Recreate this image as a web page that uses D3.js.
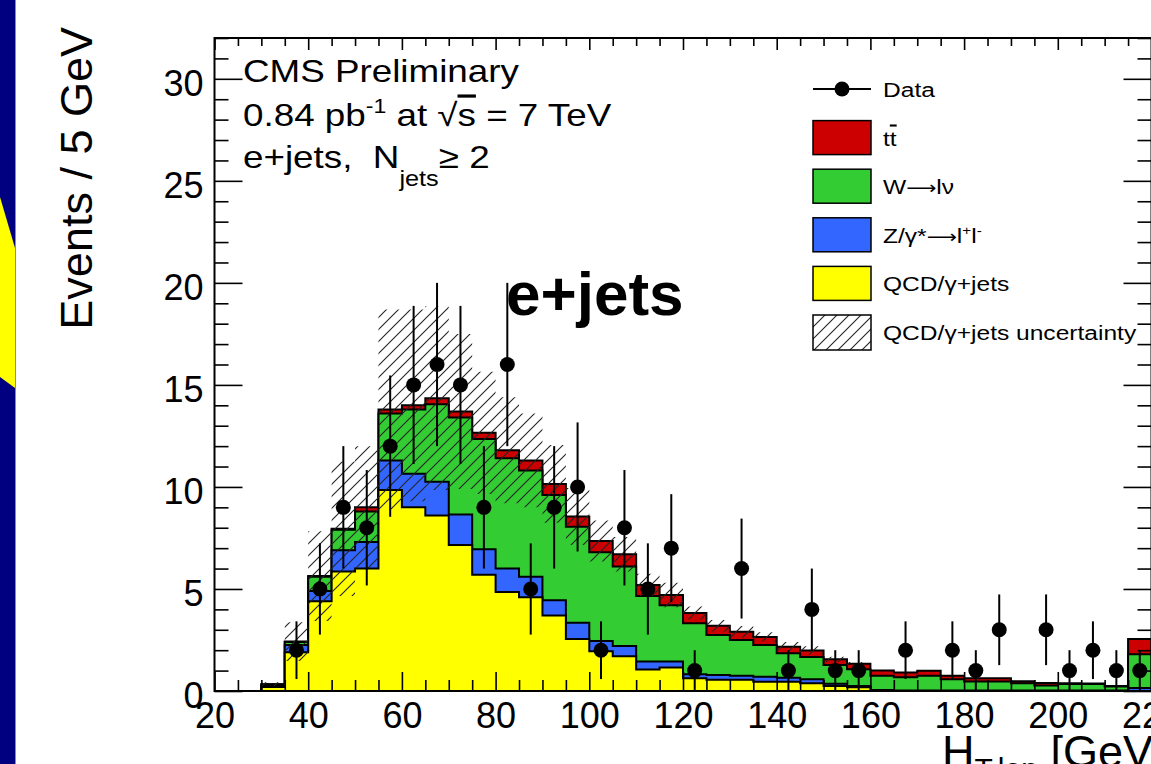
<!DOCTYPE html>
<html>
<head>
<meta charset="utf-8">
<script src="https://cdn.jsdelivr.net/npm/d3@7"></script>
<style>
  html, body { margin: 0; padding: 0; background: #fff; }
  svg { display: block; }
  text { font-family: "Liberation Sans", Arial, Helvetica, sans-serif; fill: #000; white-space: pre; }
  .arrow { font-family: "DejaVu Sans", sans-serif; }
</style>
</head>
<body>
<svg id="chart" width="1151" height="764"></svg>
<script>
// ---- data ----
// lower edge of each 5 GeV bin
const binLow = [20, 25, 30, 35, 40, 45, 50, 55, 60, 65, 70, 75, 80, 85, 90, 95, 100, 105, 110, 115,
	120, 125, 130, 135, 140, 145, 150, 155, 160, 165, 170, 175, 180, 185, 190, 195, 200, 205, 210, 215];
const binWidth = 5;

// stacked MC components, bottom to top
const qcd = [0, 0, 0.2, 1.9, 4.4, 5.85, 6.0, 9.85, 9.0, 8.6, 7.15, 5.7, 4.85, 4.6, 3.7, 2.55, 1.95, 1.7, 1.05, 1.15,
	0.62, 0.55, 0.55, 0.45, 0.45, 0.38, 0.25, 0.18, 0.02, 0, 0, 0, 0, 0, 0, 0, 0, 0, 0, 0];
const zjets = [0, 0, 0.05, 0.35, 0.5, 1.05, 1.3, 1.45, 1.65, 1.65, 1.5, 1.25, 1.15, 1.0, 0.75, 0.8, 0.5, 0.5, 0.4, 0.3,
	0.2, 0.23, 0.2, 0.25, 0.2, 0.19, 0.1, 0.07, 0.03, 0.03, 0.03, 0.02, 0.02, 0.02, 0.02, 0.02, 0.02, 0.02, 0.02, 0.15];
const wjets = [0, 0, 0.08, 0.15, 0.7, 1.0, 1.5, 2.3, 3.15, 3.8, 4.75, 5.4, 5.4, 5.2, 5.15, 4.7, 4.35, 3.9, 3.2, 2.75,
	2.5, 1.97, 1.75, 1.55, 1.2, 1.1, 0.92, 0.82, 0.7, 0.64, 0.72, 0.55, 0.45, 0.45, 0.36, 0.25, 0.32, 0.32, 0.2, 1.65];
const ttbar = [0, 0, 0, 0.02, 0.03, 0.05, 0.2, 0.2, 0.2, 0.3, 0.3, 0.3, 0.4, 0.5, 0.55, 0.5, 0.55, 0.6, 0.55, 0.5,
	0.5, 0.45, 0.4, 0.4, 0.32, 0.32, 0.28, 0.26, 0.25, 0.24, 0.24, 0.18, 0.16, 0.15, 0.1, 0.12, 0.04, 0.03, 0.02, 0.75];
// half width of the hatched QCD uncertainty band around the total
const qcdUnc = [0, 0, 0.1, 0.95, 2.2, 3.3, 3.0, 4.9, 4.7, 4.5, 3.8, 3.0, 2.6, 2.3, 1.9, 1.4, 1.0, 0.85, 0.55, 0.6,
	0.32, 0.28, 0.28, 0.23, 0.23, 0.2, 0.13, 0.09, 0, 0, 0, 0, 0, 0, 0, 0, 0, 0, 0, 0];
// observed events per bin
const dataCounts = [0, 0, 0, 2, 5, 9, 8, 12, 15, 16, 15, 9, 16, 5, 9, 10, 2, 8, 5, 7,
	1, 0, 6, 0, 1, 4, 1, 1, 0, 2, 0, 2, 1, 3, 0, 3, 1, 2, 1, 1];

const xTicks = [20, 40, 60, 80, 100, 120, 140, 160, 180, 200, 220];
const xMinor = [25, 30, 35, 45, 50, 55, 65, 70, 75, 85, 90, 95, 105, 110, 115, 125, 130, 135, 145, 150, 155,
	165, 170, 175, 185, 190, 195, 205, 210, 215];
const yTicks = [0, 5, 10, 15, 20, 25, 30];
const yMinor = [1, 2, 3, 4, 6, 7, 8, 9, 11, 12, 13, 14, 16, 17, 18, 19, 21, 22, 23, 24, 26, 27, 28, 29, 31, 32];

const layerColors = ["#ffff00", "#3366ff", "#33cc33", "#cc0000"];

// ---- layout ----
const svg = d3.select("#chart");
const frame = { left: 214.5, right: 1151.5, top: 38, bottom: 691 };
const x = d3.scaleLinear().domain([20, 220]).range([frame.left, frame.right]);
const y = d3.scaleLinear().domain([0, 32]).range([frame.bottom, frame.top]);

// slide background strip on the left
svg.append("rect").attr("x", 0).attr("y", 0).attr("width", 15).attr("height", 764).attr("fill", "#000080");
svg.append("polygon").attr("points", "0,197 15,248 15,388 0,377").attr("fill", "#ffff00");
svg.append("line").attr("x1", 15.5).attr("x2", 15.5).attr("y1", 0).attr("y2", 764)
	.attr("stroke", "#8585c8").attr("stroke-width", 1);

const defs = svg.append("defs");
defs.append("clipPath").attr("id", "frame-clip").append("rect")
	.attr("x", frame.left).attr("y", frame.top)
	.attr("width", frame.right - frame.left).attr("height", frame.bottom - frame.top);
const hs = 12;
const hatch = defs.append("pattern").attr("id", "hatch")
	.attr("patternUnits", "userSpaceOnUse").attr("width", hs).attr("height", hs);
hatch.append("path").attr("d", `M-1,1 L1,-1 M0,${hs} L${hs},0 M${hs - 1},${hs + 1} L${hs + 1},${hs - 1}`)
	.attr("stroke", "#222").attr("stroke-width", 1.1);

// cumulative stack
const layers = [qcd, zjets, wjets, ttbar];
const cumulative = [];
layers.forEach((layer, li) => {
	cumulative.push(layer.map((v, i) => v + (li > 0 ? cumulative[li - 1][i] : 0)));
});
const total = cumulative[cumulative.length - 1];

function stepPoints(lo, hi) {
	const pts = [];
	binLow.forEach((b, i) => {
		pts.push({ x: b, lo: lo[i], hi: hi[i] });
		pts.push({ x: b + binWidth, lo: lo[i], hi: hi[i] });
	});
	return pts;
}
const stepArea = d3.area().x(d => x(d.x)).y0(d => y(d.lo)).y1(d => y(d.hi));

const plot = svg.append("g").attr("clip-path", "url(#frame-clip)");
const zeros = binLow.map(() => 0);

// draw from the top of the stack down, so each lower layer covers the one above
for (let li = cumulative.length - 1; li >= 0; li--) {
	plot.append("path")
		.attr("d", stepArea(stepPoints(zeros, cumulative[li])))
		.attr("fill", layerColors[li])
		.attr("stroke", "#000")
		.attr("stroke-width", 2)
		.attr("stroke-linejoin", "miter");
}

// hatched QCD uncertainty band
plot.append("path")
	.attr("d", stepArea(stepPoints(total.map((t, i) => t - qcdUnc[i]), total.map((t, i) => t + qcdUnc[i]))))
	.attr("fill", "url(#hatch)")
	.attr("stroke", "none");

// data with sqrt(N) error bars
const dataG = plot.append("g");
binLow.forEach((b, i) => {
	const n = dataCounts[i];
	if (n <= 0) return;
	const cx = x(b + binWidth / 2);
	const e = Math.sqrt(n);
	dataG.append("line").attr("x1", cx).attr("x2", cx)
		.attr("y1", y(Math.max(0, n - e))).attr("y2", y(n + e))
		.attr("stroke", "#000").attr("stroke-width", 2);
	dataG.append("circle").attr("cx", cx).attr("cy", y(n)).attr("r", 7.5).attr("fill", "#000");
});

// ---- axes ----
function styleAxis(g) {
	g.select(".domain").remove();
	g.selectAll(".tick line").attr("stroke", "#000").attr("stroke-width", 1.6);
}
svg.append("g").attr("transform", `translate(0,${frame.bottom})`)
	.call(d3.axisBottom(x).tickValues(xTicks).tickSizeInner(-19).tickSizeOuter(0).tickPadding(11))
	.call(styleAxis)
	.call(g => g.selectAll("text").style("font-size", "36px").style("font-family", "Liberation Sans, Arial, sans-serif"));
svg.append("g").attr("transform", `translate(0,${frame.bottom})`)
	.call(d3.axisBottom(x).tickValues(xMinor).tickSizeInner(-11).tickSizeOuter(0).tickFormat(""))
	.call(styleAxis);
svg.append("g").attr("transform", `translate(0,${frame.top})`)
	.call(d3.axisBottom(x).tickValues(xTicks).tickSizeInner(12).tickSizeOuter(0).tickFormat(""))
	.call(styleAxis);
svg.append("g").attr("transform", `translate(0,${frame.top})`)
	.call(d3.axisBottom(x).tickValues(xMinor).tickSizeInner(8).tickSizeOuter(0).tickFormat(""))
	.call(styleAxis);

svg.append("g").attr("transform", `translate(${frame.left},0)`)
	.call(d3.axisLeft(y).tickValues(yTicks).tickSizeInner(-28).tickSizeOuter(0).tickPadding(11))
	.call(styleAxis)
	.call(g => g.selectAll("text").attr("dy", "0.47em").style("font-size", "36px")
		.style("font-family", "Liberation Sans, Arial, sans-serif"));
svg.append("g").attr("transform", `translate(${frame.left},0)`)
	.call(d3.axisLeft(y).tickValues(yMinor).tickSizeInner(-14).tickSizeOuter(0).tickFormat(""))
	.call(styleAxis);
svg.append("g").attr("transform", `translate(${frame.right},0)`)
	.call(d3.axisLeft(y).tickValues(yTicks).tickSizeInner(28).tickSizeOuter(0).tickFormat(""))
	.call(styleAxis);
svg.append("g").attr("transform", `translate(${frame.right},0)`)
	.call(d3.axisLeft(y).tickValues(yMinor).tickSizeInner(14).tickSizeOuter(0).tickFormat(""))
	.call(styleAxis);

svg.append("rect").attr("x", frame.left).attr("y", frame.top)
	.attr("width", frame.right - frame.left).attr("height", frame.bottom - frame.top)
	.attr("fill", "none").attr("stroke", "#000").attr("stroke-width", 2);

// axis titles
svg.append("text").attr("transform", "translate(92,27) rotate(-90)")
	.attr("text-anchor", "end").style("font-size", "45px").text("Events / 5 GeV");
const xt = svg.append("text").attr("x", 942).attr("y", 767).style("font-size", "45px");
xt.append("tspan").text("H");
xt.append("tspan").attr("dy", 12).style("font-size", "30px").text("T,lep");
xt.append("tspan").attr("dy", -12).text(" [GeV]");

// ---- annotation text (ROOT latex is drawn a bit wide) ----
const wide = 1.15;
function wideText(px, py, size) {
	return svg.append("text").attr("transform", `translate(${px},${py}) scale(${wide},1)`)
		.style("font-size", size + "px");
}
wideText(243, 82, 32).text("CMS Preliminary");
const l2 = wideText(243, 126, 32);
l2.append("tspan").text("0.84 pb");
l2.append("tspan").attr("dy", -13).style("font-size", "20px").text("-1");
l2.append("tspan").attr("dy", 13).text(" at ");
l2.append("tspan").text("\u221a");
l2.append("tspan").style("text-decoration", "overline").text("s");
l2.append("tspan").text(" = 7 TeV");
const l3 = wideText(243, 168, 32);
l3.append("tspan").text("e+jets,  N");
l3.append("tspan").attr("dy", 18).style("font-size", "22px").text("jets");
l3.append("tspan").attr("dy", -18).text("\u2265 2");

svg.append("text").attr("x", 506).attr("y", 315)
	.style("font-size", "62px").style("font-weight", "bold").text("e+jets");

// ---- legend ----
const legX = 813, legW = 58, legH = 34, legTop = 89, legStep = 48.6, legTextX = 883;
const leg = svg.append("g");
leg.append("line").attr("x1", legX).attr("x2", legX + legW).attr("y1", legTop).attr("y2", legTop)
	.attr("stroke", "#000").attr("stroke-width", 2);
leg.append("circle").attr("cx", legX + legW / 2).attr("cy", legTop).attr("r", 7.5).attr("fill", "#000");

function legText(row) {
	return leg.append("text")
		.attr("transform", `translate(${legTextX},${legTop + row * legStep + 8}) scale(1.17,1)`)
		.style("font-size", "21px");
}
legText(0).text("Data");

// boxes top to bottom: tt, W, Z, QCD, uncertainty
const legendOrder = [3, 2, 1, 0];
legendOrder.forEach((li, k) => {
	const cy = legTop + (k + 1) * legStep;
	leg.append("rect").attr("x", legX).attr("y", cy - legH / 2).attr("width", legW).attr("height", legH)
		.attr("fill", layerColors[li]).attr("stroke", "#000").attr("stroke-width", 1.5);
});
const uy = legTop + 5 * legStep;
leg.append("rect").attr("x", legX).attr("y", uy - legH / 2).attr("width", legW).attr("height", legH + 1)
	.attr("fill", "url(#hatch)").attr("stroke", "#000").attr("stroke-width", 1.5);

const tt = legText(1);
tt.append("tspan").text("t");
tt.append("tspan").style("text-decoration", "overline").text("t");
const wl = legText(2);
wl.append("tspan").text("W");
wl.append("tspan").attr("class", "arrow").style("font-size", "18px").text("\u27f6");
wl.append("tspan").text("l\u03bd");
const zl = legText(3);
zl.append("tspan").text("Z/\u03b3*");
zl.append("tspan").attr("class", "arrow").style("font-size", "18px").text("\u27f6");
zl.append("tspan").text("l");
zl.append("tspan").attr("dy", -8).style("font-size", "13px").text("+");
zl.append("tspan").attr("dy", 8).text("l");
zl.append("tspan").attr("dy", -8).style("font-size", "13px").text("-");
legText(4).text("QCD/\u03b3+jets");
legText(5).text("QCD/\u03b3+jets uncertainty");
</script>
</body>
</html>
